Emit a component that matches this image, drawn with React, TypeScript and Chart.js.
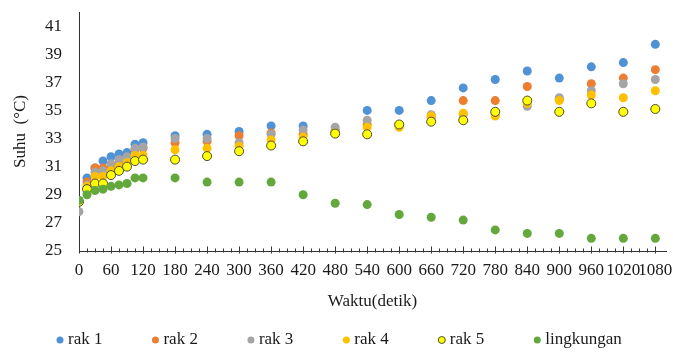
import React, { useEffect, useRef } from 'react';
import { Chart, registerables } from 'chart.js';

Chart.register(...registerables);

// ---- data ----
const times = [0, 15, 30, 45, 60, 75, 90, 105, 120, 180, 240, 300, 360, 420, 480, 540, 600, 660, 720, 780, 840, 900, 960, 1020, 1080];
const rak1 = [28.6, 30.2, 30.9, 31.4, 31.7, 31.9, 32.0, 32.6, 32.7, 33.2, 33.3, 33.5, 33.9, 33.9, 33.6, 35.0, 35.0, 35.7, 36.6, 37.2, 37.8, 37.3, 38.1, 38.4, 39.7];
const rak2 = [28.5, 29.9, 30.9, 30.9, 31.0, 31.3, 31.5, 32.2, 32.3, 32.7, 32.8, 33.2, 33.4, 33.3, 33.5, 34.0, 33.9, 34.5, 35.7, 35.7, 36.7, 35.8, 36.9, 37.3, 37.9];
const rak3 = [27.8, 29.7, 30.6, 30.7, 31.2, 31.5, 31.7, 32.3, 32.4, 33.0, 33.0, 32.7, 33.3, 33.6, 33.8, 34.3, 33.9, 34.7, 34.7, 34.7, 35.3, 35.9, 36.4, 36.9, 37.2];
const rak4 = [28.5, 29.6, 30.3, 30.3, 30.7, 31.0, 31.3, 31.8, 31.8, 32.2, 32.3, 32.45, 32.9, 33.1, 33.4, 33.8, 33.8, 34.6, 34.8, 34.6, 35.5, 35.7, 36.1, 35.9, 36.4];
const rak5 = [28.5, 29.4, 29.8, 29.8, 30.4, 30.7, 31.0, 31.4, 31.5, 31.5, 31.75, 32.1, 32.5, 32.8, 33.35, 33.3, 34.0, 34.2, 34.3, 34.9, 35.7, 34.9, 35.5, 34.9, 35.1];
const lingkungan = [28.6, 29.0, 29.3, 29.4, 29.6, 29.7, 29.8, 30.2, 30.2, 30.2, 29.9, 29.9, 29.9, 29.0, 28.4, 28.3, 27.6, 27.4, 27.2, 26.5, 26.25, 26.25, 25.9, 25.9, 25.9];

const seriesNames = ['rak 1', 'rak 2', 'rak 3', 'rak 4', 'rak 5', 'lingkungan'];
const xTickValues = [0, 60, 120, 180, 240, 300, 360, 420, 480, 540, 600, 660, 720, 780, 840, 900, 960, 1020, 1080];
const yTickValues = [25, 27, 29, 31, 33, 35, 37, 39, 41];
const xMinorStep = 15;

const FONT = '"Liberation Serif", "Times New Roman", serif';
const TEXT = '#1a1a1a';

export default function App() {
  const ref = useRef<HTMLCanvasElement | null>(null);

  useEffect(() => {
    if (!ref.current) return;
    const series = [rak1, rak2, rak3, rak4, rak5, lingkungan];
    const fills = ['#4F92D6', '#ED7D31', '#A5A5A5', '#FFC000', '#FFFF00', '#63A83D'];
    const borders = ['#4F92D6', '#ED7D31', '#A5A5A5', '#FFC000', '#4d4d33', '#63A83D'];

    const datasets = series.map((vals, i) => ({
      label: seriesNames[i],
      data: times.map((t, j) => ({ x: t, y: vals[j] })),
      backgroundColor: fills[i],
      borderColor: borders[i],
      borderWidth: i === 4 ? 1 : 0,
      pointRadius: 4.5,
      pointHoverRadius: 4.5,
      showLine: false,
      order: series.length - i,
    }));

    const marksPlugin = {
      id: 'marks',
      afterDraw(chart: any) {
        const { ctx, chartArea, scales } = chart;
        const xs = scales.x;
        ctx.save();
        // x axis ticks (major + minor)
        ctx.strokeStyle = '#333';
        ctx.lineWidth = 1;
        const y0 = Math.round(chartArea.bottom) + 0.5;
        for (let t = 0; t <= xs.max - xMinorStep / 2; t += xMinorStep) {
          const px = Math.round(xs.getPixelForValue(t)) + 0.5;
          const major = t % 60 === 0;
          ctx.beginPath();
          ctx.moveTo(px, y0 - (major ? 5 : 3));
          ctx.lineTo(px, y0 + (major ? 2 : 1));
          ctx.stroke();
        }
        // legend
        ctx.font = `17px ${FONT}`;
        ctx.textBaseline = 'middle';
        ctx.textAlign = 'left';
        const ly = 340;
        const widths = chart.data.datasets.map((d: any) => ctx.measureText(d.label).width);
        const itemW = widths.map((w: number) => 12 + w);
        const gap = 49;
        let x = 56;
        chart.data.datasets.forEach((d: any, i: number) => {
          ctx.beginPath();
          ctx.arc(x + 4, ly, 3.5, 0, Math.PI * 2);
          ctx.fillStyle = d.backgroundColor;
          ctx.fill();
          if (d.borderWidth) {
            ctx.lineWidth = 1;
            ctx.strokeStyle = d.borderColor;
            ctx.stroke();
          }
          ctx.fillStyle = TEXT;
          ctx.fillText(d.label, x + 12, ly);
          x += itemW[i] + gap;
        });
        ctx.restore();
      },
    };

    const chart = new Chart(ref.current, {
      type: 'scatter',
      data: { datasets },
      options: {
        animation: false,
        responsive: false,
        devicePixelRatio: 1,
        layout: { padding: { left: 0, top: 12, right: 7, bottom: 0 } },
        plugins: {
          legend: { display: false },
          tooltip: { enabled: false },
        },
        scales: {
          x: {
            type: 'linear',
            min: 0,
            max: 1100,
            afterBuildTicks: (s: any) => {
              s.ticks = xTickValues.map((v) => ({ value: v }));
            },
            afterFit: (s: any) => {
              s.height = 101;
              s.paddingLeft = 0;
              s.paddingRight = 0;
              s.paddingTop = 0;
              s.paddingBottom = 0;
            },
            grid: { display: false, drawTicks: false },
            border: { display: true, color: '#333', width: 1 },
            ticks: {
              autoSkip: false,
              maxRotation: 0,
              minRotation: 0,
              padding: 9,
              color: TEXT,
              font: { family: FONT, size: 17 },
              callback: (v: any) => String(v),
            },
            title: {
              display: true,
              text: 'Waktu(detik)',
              color: TEXT,
              font: { family: FONT, size: 17 },
              padding: { top: 0, bottom: 40 },
            },
          },
          y: {
            type: 'linear',
            min: 25,
            max: 42,
            afterBuildTicks: (s: any) => {
              s.ticks = yTickValues.map((v) => ({ value: v }));
            },
            afterFit: (s: any) => {
              s.width = 79;
              s.paddingLeft = 0;
              s.paddingRight = 0;
              s.paddingTop = 0;
              s.paddingBottom = 0;
            },
            grid: { display: false, drawTicks: false },
            border: { display: true, color: '#333', width: 1 },
            ticks: {
              padding: 17,
              color: TEXT,
              font: { family: FONT, size: 17 },
              callback: (v: any) => String(v),
            },
            title: {
              display: true,
              text: 'Suhu  (°C)',
              color: TEXT,
              font: { family: FONT, size: 17 },
              padding: { top: 10, bottom: 0 },
            },
          },
        },
      },
      plugins: [marksPlugin],
    } as any);

    return () => chart.destroy();
  }, []);

  return (
    <div style={{ position: 'fixed', left: 0, top: 0, width: 673, height: 352, background: '#fff' }}>
      <canvas ref={ref} width={673} height={352} style={{ width: 673, height: 352, display: 'block' }} />
    </div>
  );
}
